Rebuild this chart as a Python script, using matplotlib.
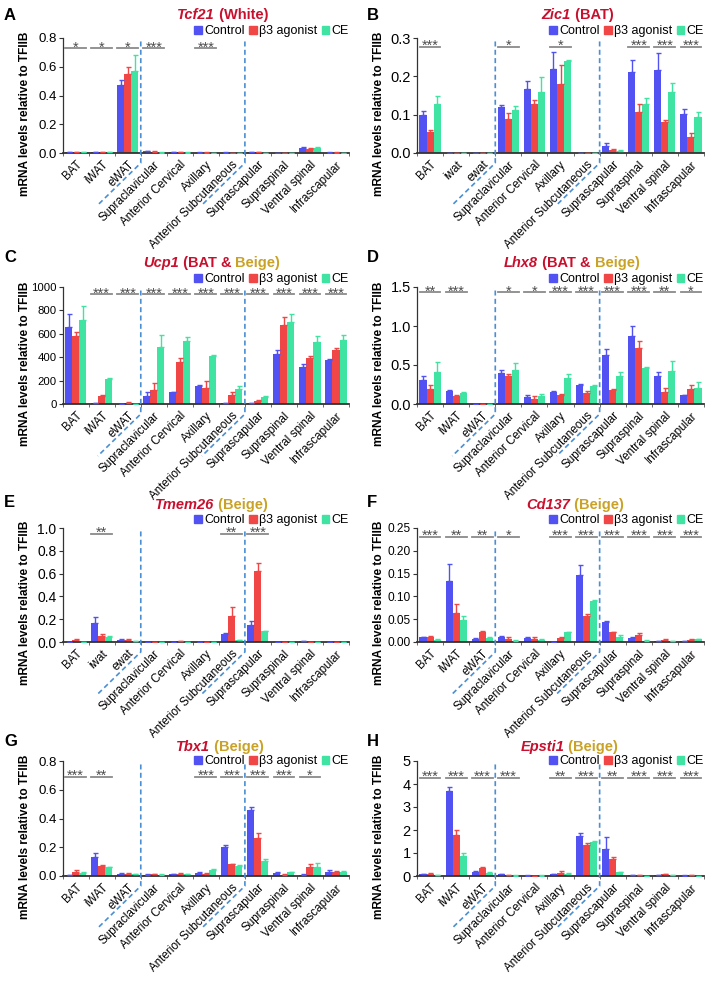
import matplotlib.pyplot as plt
import numpy as np
from matplotlib.patches import Patch
from matplotlib.offsetbox import TextArea, HPacker, AnchoredOffsetbox
from matplotlib.ticker import FormatStrFormatter, FixedLocator

plt.rcParams['font.family'] = ['Liberation Sans', 'DejaVu Sans']

categories = ['BAT', 'iWAT', 'eWAT', 'Supraclavicular', 'Anterior Cervical', 'Axillary',
              'Anterior Subcutaneous', 'Suprascapular', 'Supraspinal', 'Ventral spinal', 'Infrascapular']
categories_lc = ['BAT', 'iwat', 'ewat', 'Supraclavicular', 'Anterior Cervical', 'Axillary',
                 'Anterior Subcutaneous', 'Suprascapular', 'Supraspinal', 'Ventral spinal', 'Infrascapular']
groups = ['Control', 'β3 agonist', 'CE']

# A  Tcf21
tcf21_ctrl = [0.005, 0.005, 0.473, 0.012, 0.005, 0.003, 0.003, 0.006, 0.002, 0.035, 0.003]
tcf21_b3 = [0.005, 0.004, 0.549, 0.010, 0.006, 0.003, 0.002, 0.006, 0.002, 0.028, 0.003]
tcf21_ce = [0.005, 0.004, 0.569, 0.003, 0.003, 0.002, 0.002, 0.002, 0.002, 0.035, 0.002]
tcf21_ctrl_err = [0.001, 0.001, 0.035, 0.003, 0.001, 0.001, 0.001, 0.001, 0.001, 0.004, 0.001]
tcf21_b3_err = [0.001, 0.001, 0.05, 0.003, 0.002, 0.001, 0.001, 0.002, 0.001, 0.005, 0.001]
tcf21_ce_err = [0.001, 0.001, 0.11, 0.001, 0.001, 0.001, 0.001, 0.001, 0.001, 0.01, 0.001]
tcf21_sig = ['*', '*', '*', '***', '', '***', '', '', '', '', '']

# B  Zic1
zic1_ctrl = [0.100, 0.001, 0.001, 0.121, 0.168, 0.218, 0.001, 0.017, 0.212, 0.217, 0.102]
zic1_b3 = [0.054, 0.001, 0.001, 0.089, 0.128, 0.180, 0.0, 0.008, 0.107, 0.080, 0.043]
zic1_ce = [0.128, 0.001, 0.001, 0.111, 0.159, 0.240, 0.0, 0.006, 0.129, 0.158, 0.094]
zic1_ctrl_err = [0.01, 0.0, 0.0, 0.003, 0.02, 0.045, 0.0, 0.01, 0.03, 0.045, 0.013]
zic1_b3_err = [0.005, 0.0, 0.0, 0.015, 0.01, 0.05, 0.0, 0.003, 0.02, 0.005, 0.008]
zic1_ce_err = [0.02, 0.0, 0.0, 0.012, 0.04, 0.003, 0.0, 0.002, 0.015, 0.025, 0.012]
zic1_sig = ['***', '', '', '*', '', '*', '', '', '***', '***', '***']

# C  Ucp1
ucp1_ctrl = [660, 5, 3, 70, 100, 155, 5, 5, 425, 320, 378]
ucp1_b3 = [585, 65, 12, 122, 360, 140, 75, 25, 675, 390, 460]
ucp1_ce = [715, 210, 3, 490, 540, 410, 130, 60, 705, 530, 550]
ucp1_ctrl_err = [110, 2, 1, 30, 5, 10, 2, 2, 40, 25, 10]
ucp1_b3_err = [30, 15, 4, 60, 30, 60, 30, 8, 70, 20, 20]
ucp1_ce_err = [120, 15, 1, 100, 30, 10, 20, 5, 60, 50, 40]
ucp1_sig = ['', '***', '***', '***', '***', '***', '***', '***', '***', '***', '***']

# D  Lhx8
lhx8_ctrl = [0.31, 0.17, 0.005, 0.40, 0.09, 0.16, 0.24, 0.63, 0.87, 0.36, 0.11]
lhx8_b3 = [0.195, 0.10, 0.005, 0.36, 0.07, 0.11, 0.14, 0.18, 0.72, 0.16, 0.19]
lhx8_ce = [0.41, 0.14, 0.002, 0.44, 0.10, 0.33, 0.23, 0.36, 0.46, 0.42, 0.21]
lhx8_ctrl_err = [0.05, 0.01, 0.0, 0.04, 0.03, 0.01, 0.02, 0.07, 0.13, 0.05, 0.005]
lhx8_b3_err = [0.05, 0.02, 0.0, 0.02, 0.03, 0.02, 0.03, 0.01, 0.09, 0.04, 0.05]
lhx8_ce_err = [0.13, 0.01, 0.0, 0.08, 0.03, 0.05, 0.02, 0.05, 0.02, 0.13, 0.07]
lhx8_sig = ['**', '***', '', '*', '*', '***', '***', '***', '***', '**', '*']

# E  Tmem26
tmem26_ctrl = [0.0, 0.17, 0.02, 0.0, 0.0, 0.003, 0.073, 0.15, 0.002, 0.005, 0.0]
tmem26_b3 = [0.02, 0.05, 0.02, 0.0, 0.005, 0.002, 0.224, 0.625, 0.002, 0.003, 0.003]
tmem26_ce = [0.0, 0.045, 0.005, 0.0, 0.0, 0.0, 0.015, 0.095, 0.0, 0.001, 0.0]
tmem26_ctrl_err = [0.0, 0.05, 0.01, 0.0, 0.0, 0.001, 0.01, 0.03, 0.001, 0.002, 0.0]
tmem26_b3_err = [0.005, 0.02, 0.01, 0.0, 0.002, 0.001, 0.08, 0.07, 0.001, 0.001, 0.001]
tmem26_ce_err = [0.0, 0.01, 0.002, 0.0, 0.0, 0.0, 0.003, 0.005, 0.0, 0.0, 0.0]
tmem26_sig = ['', '**', '', '', '', '', '**', '***', '', '', '']

# F  Cd137
cd137_ctrl = [0.010, 0.134, 0.006, 0.010, 0.008, 0.001, 0.148, 0.043, 0.008, 0.002, 0.002]
cd137_b3 = [0.010, 0.063, 0.021, 0.007, 0.007, 0.009, 0.056, 0.021, 0.016, 0.005, 0.004]
cd137_ce = [0.004, 0.048, 0.009, 0.003, 0.005, 0.021, 0.090, 0.012, 0.003, 0.002, 0.006]
cd137_ctrl_err = [0.002, 0.036, 0.003, 0.004, 0.003, 0.0, 0.02, 0.003, 0.002, 0.001, 0.001]
cd137_b3_err = [0.003, 0.02, 0.003, 0.004, 0.004, 0.003, 0.005, 0.002, 0.004, 0.002, 0.002]
cd137_ce_err = [0.002, 0.008, 0.003, 0.001, 0.002, 0.001, 0.003, 0.004, 0.001, 0.001, 0.001]
cd137_sig = ['***', '**', '**', '*', '', '***', '***', '***', '***', '***', '***']

# G  Tbx1
tbx1_ctrl = [0.004, 0.13, 0.015, 0.010, 0.012, 0.022, 0.203, 0.462, 0.022, 0.010, 0.030]
tbx1_b3 = [0.030, 0.069, 0.015, 0.012, 0.015, 0.015, 0.083, 0.261, 0.008, 0.065, 0.027]
tbx1_ce = [0.020, 0.060, 0.014, 0.008, 0.012, 0.043, 0.072, 0.106, 0.027, 0.060, 0.030]
tbx1_ctrl_err = [0.001, 0.03, 0.003, 0.003, 0.005, 0.005, 0.015, 0.015, 0.003, 0.003, 0.01]
tbx1_b3_err = [0.01, 0.005, 0.003, 0.005, 0.008, 0.003, 0.003, 0.04, 0.003, 0.02, 0.005]
tbx1_ce_err = [0.01, 0.005, 0.003, 0.003, 0.005, 0.005, 0.008, 0.015, 0.003, 0.03, 0.005]
tbx1_sig = ['***', '**', '', '', '', '***', '***', '***', '***', '*', '']

# H  Epsti1
epsti1_ctrl = [0.07, 3.70, 0.18, 0.09, 0.02, 0.08, 1.76, 1.18, 0.03, 0.05, 0.02]
epsti1_b3 = [0.09, 1.79, 0.35, 0.03, 0.01, 0.15, 1.33, 0.72, 0.03, 0.08, 0.03]
epsti1_ce = [0.03, 0.89, 0.12, 0.02, 0.02, 0.08, 1.50, 0.17, 0.01, 0.03, 0.01]
epsti1_ctrl_err = [0.02, 0.15, 0.03, 0.01, 0.01, 0.02, 0.1, 0.5, 0.01, 0.01, 0.01]
epsti1_b3_err = [0.03, 0.2, 0.04, 0.01, 0.01, 0.06, 0.1, 0.09, 0.01, 0.02, 0.01]
epsti1_ce_err = [0.01, 0.1, 0.04, 0.01, 0.01, 0.03, 0.03, 0.02, 0.01, 0.01, 0.01]
epsti1_sig = ['***', '***', '***', '***', '', '**', '***', '**', '***', '***', '***']

BLUE, RED_BAR, GREEN = '#5252f2', '#f04646', '#3fe3a2'
bar_colors = [BLUE, RED_BAR, GREEN]
TRED = '#c8102e'
GOLD = '#c9a227'

W, H = 714, 992
rows_px = [(38, 153), (287, 404), (528, 642), (761, 876)]
cols_px = [(62.7, 349), (417, 704)]
letter_y = [15, 258, 502, 741]
title_off = [23, 24, 23, 14]
legend_off = [7, 8, 8, 0]
ytick_size = [9.5, 10.5, 8.2, 10.5, 10, 8.6, 9.5, 10.5]

panels = [
    ('A', tcf21_ctrl, tcf21_b3, tcf21_ce, tcf21_ctrl_err, tcf21_b3_err, tcf21_ce_err, tcf21_sig,
     0.8, 0.2, 1, 0.73, categories, [('Tcf21', TRED, 'italic'), (' (White)', TRED, 'normal')], 0.56),
    ('B', zic1_ctrl, zic1_b3, zic1_ce, zic1_ctrl_err, zic1_b3_err, zic1_ce_err, zic1_sig,
     0.3, 0.1, 1, 0.277, categories_lc, [('Zic1', TRED, 'italic'), (' (BAT)', TRED, 'normal')], 0.56),
    ('C', ucp1_ctrl, ucp1_b3, ucp1_ce, ucp1_ctrl_err, ucp1_b3_err, ucp1_ce_err, ucp1_sig,
     1000, 200, 0, 938, categories,
     [('Ucp1', TRED, 'italic'), (' (BAT & ', TRED, 'normal'), ('Beige)', GOLD, 'normal')], 0.52),
    ('D', lhx8_ctrl, lhx8_b3, lhx8_ce, lhx8_ctrl_err, lhx8_b3_err, lhx8_ce_err, lhx8_sig,
     1.5, 0.5, 1, 1.43, categories,
     [('Lhx8', TRED, 'italic'), (' (BAT & ', TRED, 'normal'), ('Beige)', GOLD, 'normal')], 0.54),
    ('E', tmem26_ctrl, tmem26_b3, tmem26_ce, tmem26_ctrl_err, tmem26_b3_err, tmem26_ce_err, tmem26_sig,
     1.0, 0.2, 1, 0.95, categories_lc, [('Tmem26', TRED, 'italic'), (' (Beige)', GOLD, 'normal')], 0.52),
    ('F', cd137_ctrl, cd137_b3, cd137_ce, cd137_ctrl_err, cd137_b3_err, cd137_ce_err, cd137_sig,
     0.25, 0.05, 2, 0.231, categories, [('Cd137', TRED, 'italic'), (' (Beige)', GOLD, 'normal')], 0.55),
    ('G', tbx1_ctrl, tbx1_b3, tbx1_ce, tbx1_ctrl_err, tbx1_b3_err, tbx1_ce_err, tbx1_sig,
     0.8, 0.2, 1, 0.69, categories, [('Tbx1', TRED, 'italic'), (' (Beige)', GOLD, 'normal')], 0.55),
    ('H', epsti1_ctrl, epsti1_b3, epsti1_ce, epsti1_ctrl_err, epsti1_b3_err, epsti1_ce_err, epsti1_sig,
     5, 1, 0, 4.28, categories, [('Epsti1', TRED, 'italic'), (' (Beige)', GOLD, 'normal')], 0.53),
]

fig = plt.figure(figsize=(W / 100, H / 100), dpi=100)
x = np.arange(len(categories))
bw = 0.27

for i, p in enumerate(panels):
    (letter, c, b, e, ce_, be_, ee_, sig, ytop, ystep, dec, sig_y, labels, tparts, tx) = p
    r, col = divmod(i, 2)
    top, bot = rows_px[r]
    left, right = cols_px[col]
    wpx, hpx = right - left, bot - top
    ax = fig.add_axes([left / W, 1 - bot / H, wpx / W, hpx / H])

    for k, (vals, errs) in enumerate([(c, ce_), (b, be_), (e, ee_)]):
        xs = x + (k - 1) * bw
        ax.bar(xs, vals, bw, color=bar_colors[k], zorder=2)
        ax.errorbar(xs, vals, yerr=[np.zeros(len(vals)), errs], fmt='none', ecolor=bar_colors[k],
                    elinewidth=1, capsize=1.8, capthick=1, zorder=3)

    ax.set_xlim(-0.5, 10.5)
    ax.set_ylim(0, ytop)
    ax.set_yticks(np.arange(0, ytop + ystep / 2, ystep))
    ax.yaxis.set_major_formatter(FormatStrFormatter('%.{}f'.format(dec)))
    ax.tick_params(axis='y', labelsize=ytick_size[i], length=3, width=0.8, pad=1.5, color='#333333')
    ax.set_xticks(x)
    ax.set_xticklabels(labels, rotation=45, ha='right', rotation_mode='anchor', fontsize=8.4)
    ax.tick_params(axis='x', length=0, pad=4)
    ax.xaxis.set_minor_locator(FixedLocator(np.arange(-0.5, 11, 1)))
    ax.tick_params(axis='x', which='minor', length=2, width=0.6, color='#555555')
    for s in ['top', 'right']:
        ax.spines[s].set_visible(False)
    ax.spines['left'].set_color('#333333')
    ax.spines['left'].set_linewidth(0.9)
    ax.spines['bottom'].set_color('#333333')
    ax.spines['bottom'].set_linewidth(1.3)

    ax.set_ylabel('mRNA levels relative to TFIIB', fontsize=8.6, fontweight='bold')
    ax.yaxis.set_label_coords(-32 / wpx, 0.34)

    # significance marks
    for j, s in enumerate(sig):
        if not s:
            continue
        ax.plot([j - 0.4, j + 0.4], [sig_y, sig_y], color='#8a8a8a', lw=1.3, clip_on=False, zorder=4)
        ax.annotate(s, (j, sig_y), xytext=(0, -2.4), textcoords='offset points', ha='center',
                    va='baseline', fontsize=10.5, color='#4d4d4d', annotation_clip=False)

    # dashed separators with diagonal under labels
    for sx in [2.5, 6.5]:
        fx = (sx + 0.5) / 11
        xs_ = [fx, fx, fx - 43 / wpx]
        ys_ = [0.97, -10 / hpx, -52 / hpx]
        ax.plot(xs_, ys_, transform=ax.transAxes, color='#4a8fd4', lw=1.2, ls=(0, (3, 2)),
                clip_on=False, zorder=5)

    # legend
    handles = [Patch(color=col_) for col_ in bar_colors]
    ax.legend(handles, groups, loc='center right', bbox_to_anchor=(1.0, 1 + legend_off[r] / hpx),
              ncol=3, frameon=False, fontsize=9.0, handlelength=0.6, handleheight=0.6,
              handletextpad=0.2, columnspacing=0.35, borderpad=0, borderaxespad=0)

    # title
    areas = [TextArea(t, textprops=dict(color=cc, fontstyle=st, fontweight='bold', fontsize=10.5))
             for t, cc, st in tparts]
    hp = HPacker(children=areas, align='baseline', pad=0, sep=0)
    ab = AnchoredOffsetbox(loc='center', child=hp, pad=0, borderpad=0, frameon=False,
                           bbox_to_anchor=(tx, 1 + title_off[r] / hpx), bbox_transform=ax.transAxes)
    ax.add_artist(ab)

    fig.text((4 if col == 0 else 367) / W, 1 - letter_y[r] / H, letter, fontsize=12,
             fontweight='bold', ha='left', va='center')

fig.savefig('out.png', dpi=100)
